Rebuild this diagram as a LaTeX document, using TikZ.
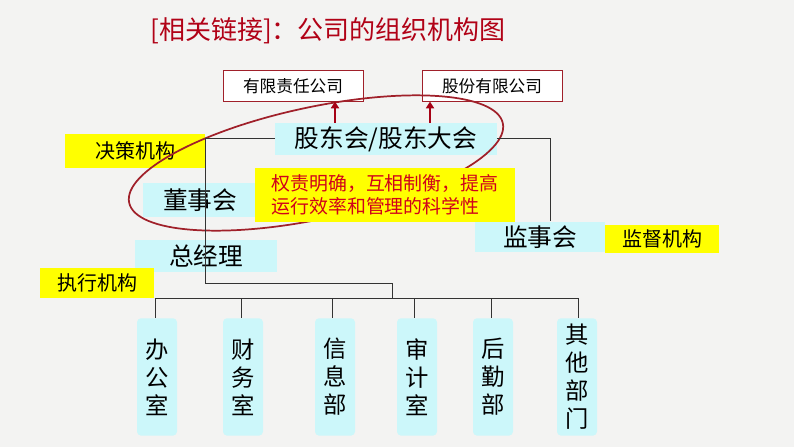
\documentclass[tikz,border=0pt]{standalone}
\usepackage{fontspec}
\setmainfont{Noto Sans CJK SC}
\usetikzlibrary{arrows.meta}
\definecolor{bg}{HTML}{F3F3F2}
\definecolor{cy}{HTML}{CCF7FA}
\definecolor{yl}{HTML}{FFFF00}
\definecolor{dr}{HTML}{A0202A}
\definecolor{tr}{HTML}{D0021B}
\tikzset{
 cbox/.style={fill=cy,inner sep=0pt,font=\fontsize{18.5}{20}\selectfont},
 ybox/.style={fill=yl,inner sep=0pt,font=\fontsize{15}{17}\selectfont},
 rbox/.style={draw=dr,fill=white,inner sep=0pt,minimum width=105pt,minimum height=23pt,font=\fontsize{12.5}{14}\selectfont},
 dept/.style={fill=cy,rounded corners=3pt,inner sep=0pt,minimum width=30pt,minimum height=88pt,anchor=north,align=center,font=\fontsize{17.5}{21}\selectfont},
 ln/.style={draw=black!80,line width=0.6pt},
 arr/.style={draw=tr!80!black,line width=1.5pt,-{Triangle[length=5pt,width=6pt]}}
}
\begin{document}
\begin{tikzpicture}[x=0.75pt,y=-0.75pt]
\fill[bg] (0,0) rectangle (794,447);
\useasboundingbox (0,0) rectangle (794,447);
\node[font=\fontsize{19.5}{22}\selectfont,text=tr!85!black] (title) at (328,31) {[相关链接]：公司的组织机构图};
\node[rbox] (yx) at (293,86) {有限责任公司};
\node[rbox] (gf) at (492,86) {股份有限公司};
\node[cbox,minimum width=166pt,minimum height=24pt] (gd) at (386,139) {股东会/股东大会};
\node[ybox,minimum width=105pt,minimum height=25pt] (jc) at (135,151) {决策机构};
\node[cbox,minimum width=85pt,minimum height=25pt] (ds) at (200,200) {董事会};
\draw[draw=dr,line width=1.3pt,rotate around={12:(316,163)}] (316,163) ellipse [x radius=191,y radius=56];
\node[ybox,minimum width=195pt,minimum height=41pt,align=left,text=tr,font=\fontsize{14.2}{17.5}\selectfont] (note) at (385,195) {权责明确，互相制衡，提高\\运行效率和管理的科学性};
\node[cbox,minimum width=98pt,minimum height=23pt] (js) at (540,237) {监事会};
\node[ybox,minimum width=86pt,minimum height=21pt] (jd) at (662,239) {监督机构};
\node[cbox,minimum width=106pt,minimum height=24pt] (zj) at (206,256) {总经理};
\node[ybox,minimum width=86pt,minimum height=23pt] (zx) at (97,283) {执行机构};
\coordinate (bL) at (205,138);
\coordinate (bT) at (205,283);
\coordinate (bM) at (392,283);
\coordinate (bJ) at (392,298);
\coordinate (rR) at (550,138);
\draw[ln] (gd.west |- bL) -- (bL) -- (bT) -- (bM) -- (bJ);
\draw[ln] (gd.east |- rR) -- (rR) -- (js.north -| rR);
\draw[ln] (155,298) -- (578,298);
\foreach \n/\x/\lx/\t in {a/157/155/办\\公\\室, b/243/241/财\\务\\室, c/335/332/信\\息\\部, d/417/414/审\\计\\室, e/493/491/后\\勤\\部, f/577/578/其\\他\\部\\门}{
  \node[dept] (\n) at (\x,318) {\t};
  \draw[ln] (\lx,298) -- (\lx,318);
}
\draw[arr] (gd.north -| 335,0) -- (yx.south -| 335,0);
\draw[arr] (gd.north -| 430,0) -- (gf.south -| 430,0);
\end{tikzpicture}
\end{document}
